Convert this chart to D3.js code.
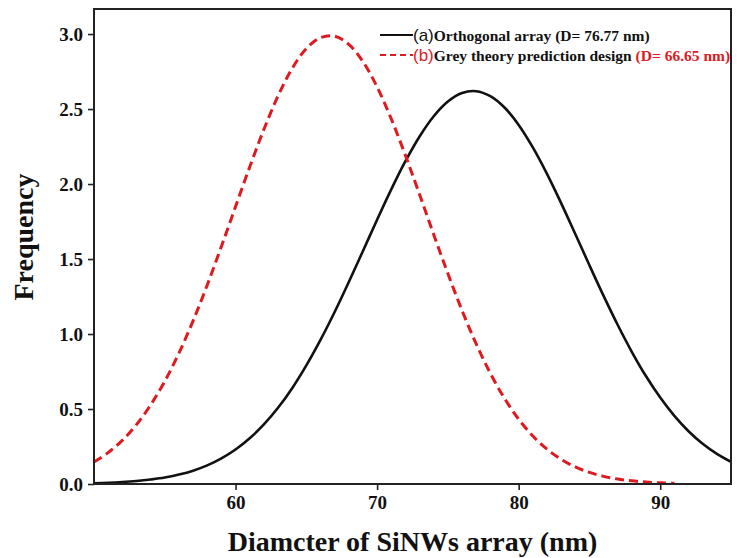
<!DOCTYPE html>
<html>
<head>
<meta charset="utf-8">
<script src="https://cdn.jsdelivr.net/npm/d3@7"></script>
<style>
  html, body { margin: 0; padding: 0; background: #fff; }
  svg { display: block; }
</style>
</head>
<body>
<div id="chart"></div>
<script>
// ---- Data ----
const orthoX = [50,51,52,53,54,55,56,57,58,59,60,61,62,63,64,65,66,67,68,69,70,71,72,73,74,75,76,77,78,79,80,81,82,83,84,85,86,87,88,89,90,91,92,93,94,95];
const orthoFreq = [0.005,0.008,0.013,0.02,0.03,0.043,0.063,0.089,0.124,0.171,0.23,0.305,0.397,0.508,0.639,0.791,0.961,1.147,1.347,1.554,1.762,1.964,2.152,2.317,2.452,2.55,2.607,2.619,2.586,2.51,2.394,2.244,2.068,1.873,1.667,1.458,1.254,1.06,0.88,0.718,0.576,0.454,0.352,0.268,0.201,0.148];
const greyX = [50,51,52,53,54,55,56,57,58,59,60,61,62,63,64,65,66,67,68,69,70,71,72,73,74,75,76,77,78,79,80,81,82,83,84,85,86,87,88,89,90,91];
const greyFreq = [0.147,0.209,0.291,0.396,0.527,0.685,0.873,1.088,1.327,1.584,1.85,2.114,2.364,2.587,2.771,2.903,2.976,2.986,2.931,2.816,2.647,2.434,2.191,1.93,1.663,1.403,1.157,0.934,0.738,0.571,0.432,0.32,0.232,0.164,0.114,0.077,0.051,0.033,0.021,0.013,0.008,0.005];
const xTicks = [60, 70, 80, 90];
const yTicks = [0, 0.5, 1.0, 1.5, 2.0, 2.5, 3.0];
const xDomain = [50, 95];
const yDomain = [0, 3.167];
const legendA = { tag: "(a)", text: "Orthogonal array (D= 76.77 nm)", extra: "" };
const legendB = { tag: "(b)", text: "Grey theory prediction design", extra: " (D= 66.65 nm)" };
const xTitle = "Diamcter of SiNWs array (nm)";
const yTitle = "Frequency";

// ---- Layout ----
const W = 737, H = 558;
const m = { left: 94, right: 6, top: 9, bottom: 74 };
const serif = "'Liberation Serif', 'Times New Roman', serif";
const sans = "'Liberation Sans', Arial, sans-serif";
const red = "#e0191f";

const svg = d3.select("#chart").append("svg").attr("width", W).attr("height", H);

const x = d3.scaleLinear().domain(xDomain).range([m.left, W - m.right]);
const y = d3.scaleLinear().domain(yDomain).range([H - m.bottom, m.top]);

svg.append("defs").append("clipPath").attr("id", "clip")
  .append("rect").attr("x", m.left).attr("y", m.top)
  .attr("width", W - m.right - m.left).attr("height", H - m.bottom - m.top);

// Axes
const xAxis = svg.append("g").attr("transform", `translate(0,${H - m.bottom})`)
  .call(d3.axisBottom(x).tickValues(xTicks).tickFormat(d3.format("d")).tickSize(6).tickSizeOuter(0).tickPadding(6));
const yAxis = svg.append("g").attr("transform", `translate(${m.left},0)`)
  .call(d3.axisLeft(y).tickValues(yTicks).tickFormat(d3.format(".1f")).tickSize(6).tickSizeOuter(0).tickPadding(5));
[xAxis, yAxis].forEach(g => {
  g.select(".domain").remove();
  g.selectAll(".tick line").attr("stroke", "#222").attr("stroke-width", 1.6);
  g.selectAll(".tick text").attr("fill", "#111").style("font-family", serif)
    .style("font-weight", "bold").style("font-size", "19px");
});
yAxis.selectAll(".tick text").attr("dy", "0.34em");

// Curves
const line = d3.line().x(d => x(d[0])).y(d => y(d[1])).curve(d3.curveCatmullRom.alpha(0.5));
const plot = svg.append("g").attr("clip-path", "url(#clip)");
plot.append("path").datum(orthoX.map((v, i) => [v, orthoFreq[i]]))
  .attr("d", line).attr("fill", "none").attr("stroke", "#111").attr("stroke-width", 2.6);
plot.append("path").datum(greyX.map((v, i) => [v, greyFreq[i]]))
  .attr("d", line).attr("fill", "none").attr("stroke", red).attr("stroke-width", 3)
  .attr("stroke-dasharray", "9,5");

// Frame
svg.append("rect").attr("x", m.left).attr("y", m.top)
  .attr("width", W - m.right - m.left).attr("height", H - m.bottom - m.top)
  .attr("fill", "none").attr("stroke", "#222").attr("stroke-width", 2);

// Legend
const lg = svg.append("g");
const rows = [
  { item: legendA, yLine: 35, stroke: "#111", dash: null, tagColor: "#111", w: 2 },
  { item: legendB, yLine: 55, stroke: red, dash: "6,4", tagColor: red, w: 2 }
];
rows.forEach(r => {
  lg.append("line").attr("x1", 380).attr("x2", 413).attr("y1", r.yLine).attr("y2", r.yLine)
    .attr("stroke", r.stroke).attr("stroke-width", r.w).attr("stroke-dasharray", r.dash);
  const t = lg.append("text").attr("x", 413).attr("y", r.yLine + 6);
  t.append("tspan").text(r.item.tag).attr("fill", r.tagColor)
    .style("font-family", sans).style("font-size", "17px");
  t.append("tspan").text(r.item.text).attr("fill", "#111")
    .style("font-family", serif).style("font-weight", "bold").style("font-size", "15.5px");
  if (r.item.extra) {
    t.append("tspan").text(r.item.extra).attr("fill", red)
      .style("font-family", serif).style("font-weight", "bold").style("font-size", "15.5px");
  }
});

// Titles
svg.append("text").attr("x", (m.left + W - m.right) / 2).attr("y", 551)
  .attr("text-anchor", "middle").attr("fill", "#111")
  .style("font-family", serif).style("font-weight", "bold").style("font-size", "28px")
  .text(xTitle);
svg.append("text").attr("transform", "translate(33,237) rotate(-90)")
  .attr("text-anchor", "middle").attr("fill", "#111")
  .style("font-family", serif).style("font-weight", "bold").style("font-size", "28px")
  .text(yTitle);
</script>
</body>
</html>
